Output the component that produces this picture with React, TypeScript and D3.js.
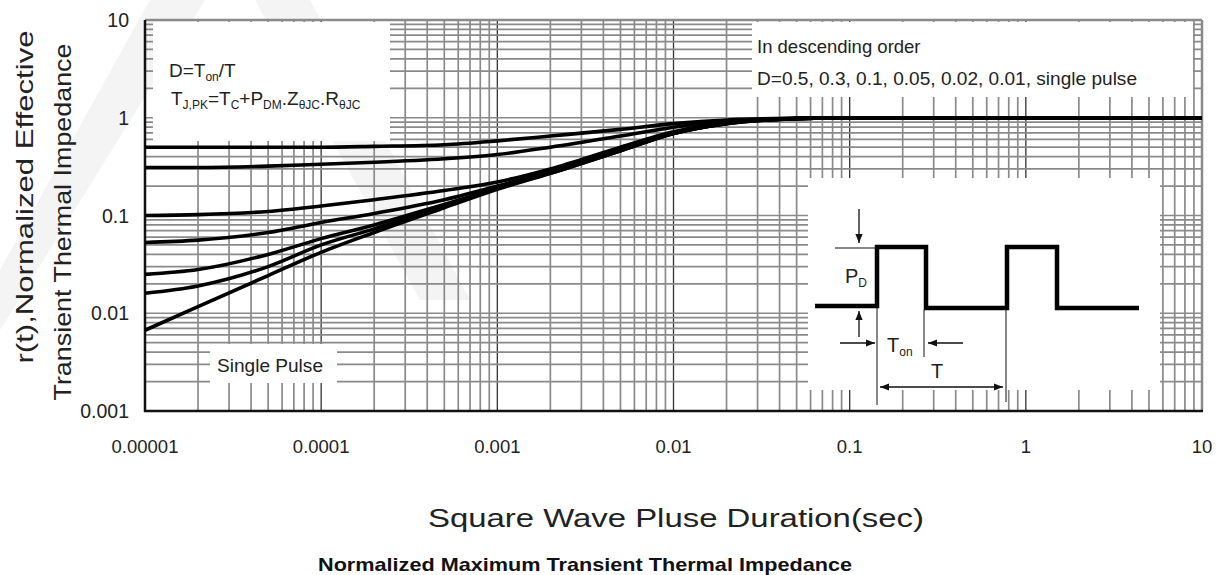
import React from 'react';
import * as d3 from 'd3';

// ---------- data ----------
const times = [1e-5, 2e-5, 5e-5, 1e-4, 2e-4, 5e-4, 1e-3, 2e-3, 5e-3, 1e-2, 2e-2, 5e-2, 1e-1, 1, 10];
const dutyD05 = [0.50, 0.50, 0.50, 0.50, 0.51, 0.53, 0.58, 0.65, 0.76, 0.87, 0.95, 0.99, 1.0, 1.0, 1.0];
const dutyD03 = [0.31, 0.31, 0.32, 0.335, 0.35, 0.38, 0.42, 0.50, 0.65, 0.80, 0.92, 0.99, 1.0, 1.0, 1.0];
const dutyD01 = [0.10, 0.102, 0.11, 0.125, 0.145, 0.18, 0.22, 0.30, 0.50, 0.72, 0.89, 0.98, 1.0, 1.0, 1.0];
const dutyD005 = [0.053, 0.056, 0.067, 0.085, 0.105, 0.145, 0.20, 0.285, 0.47, 0.70, 0.88, 0.98, 1.0, 1.0, 1.0];
const dutyD002 = [0.025, 0.028, 0.04, 0.058, 0.08, 0.13, 0.19, 0.275, 0.46, 0.69, 0.875, 0.98, 1.0, 1.0, 1.0];
const dutyD001 = [0.016, 0.019, 0.03, 0.05, 0.073, 0.125, 0.19, 0.27, 0.46, 0.69, 0.87, 0.98, 1.0, 1.0, 1.0];
const singlePulse = [0.0067, 0.0117, 0.0243, 0.042, 0.067, 0.12, 0.185, 0.27, 0.46, 0.69, 0.87, 0.98, 1.0, 1.0, 1.0];
const seriesList = [dutyD05, dutyD03, dutyD01, dutyD005, dutyD002, dutyD001, singlePulse];

const xTickValues = [1e-5, 1e-4, 1e-3, 1e-2, 1e-1, 1, 10];
const xTickLabels = ['0.00001', '0.0001', '0.001', '0.01', '0.1', '1', '10'];
const yTickValues = [0.001, 0.01, 0.1, 1, 10];
const yTickLabels = ['0.001', '0.01', '0.1', '1', '10'];

const FONT = '"Liberation Sans", Arial, Helvetica, sans-serif';
const W = 1221, H = 575;
const L = 145, R = 1202, T = 20, B = 411;

export default function App() {
  const x = d3.scaleLog().domain([1e-5, 10]).range([L, R]);
  const y = d3.scaleLog().domain([0.001, 10]).range([B, T]);

  const xMinor: number[] = [];
  for (let e = -5; e < 1; e++) for (let k = 1; k <= 9; k++) xMinor.push(k * Math.pow(10, e));
  const yMinor: number[] = [];
  for (let e = -3; e < 1; e++) for (let k = 1; k <= 9; k++) yMinor.push(k * Math.pow(10, e));

  const line = d3
    .line<[number, number]>()
    .x((d) => x(d[0]))
    .y((d) => y(d[1]))
    .curve(d3.curveMonotoneX);

  const gray = '#8a8a8a';
  const txt = '#222';

  return (
    <div style={{ position: 'absolute', left: 0, top: 0 }}>
      <svg width={W} height={H} style={{ display: 'block', background: '#fff' }} fontFamily={FONT}>
        <defs>
          <marker id="ah" viewBox="0 0 10 10" refX="10" refY="5" markerWidth="7" markerHeight="7" orient="auto">
            <path d="M0,1 L10,5 L0,9 Z" fill="#111" />
          </marker>
          <marker id="ahs" viewBox="0 0 10 10" refX="0" refY="5" markerWidth="7" markerHeight="7" orient="auto">
            <path d="M10,1 L0,5 L10,9 Z" fill="#111" />
          </marker>
        </defs>

        {/* faint watermark */}
        <g fill="#f4f4f4">
          <polygon points="0,330 0,270 150,0 205,0" />
          <polygon points="255,0 310,0 470,300 420,300" />
        </g>

        {/* grid */}
        <g>
          {xMinor.map((v, i) => {
            const major = Math.abs(Math.log10(v) - Math.round(Math.log10(v))) < 1e-9;
            return (
              <line key={'gx' + i} x1={x(v)} x2={x(v)} y1={T} y2={B}
                stroke={major && v !== 1e-5 ? '#333' : gray} strokeWidth={major ? 1.3 : 1.7} />
            );
          })}
          {yMinor.map((v, i) => (
            <line key={'gy' + i} x1={L} x2={R} y1={y(v)} y2={y(v)} stroke={gray} strokeWidth={1.7} />
          ))}
          <line x1={L} x2={R} y1={T} y2={T} stroke={gray} strokeWidth={2.5} />
          <line x1={R} x2={R} y1={T} y2={B} stroke={gray} strokeWidth={2.5} />
        </g>

        {/* annotation masks */}
        <rect x={153} y={22} width={237} height={119} fill="#fff" />
        <rect x={752} y={22} width={441} height={75} fill="#fff" />
        <rect x={808} y={178} width={352} height={212} fill="#fff" />
        <rect x={210} y={344} width={127} height={39} fill="#fff" />

        {/* frame */}
        <line x1={L} x2={L} y1={T} y2={B + 1} stroke="#111" strokeWidth={2.5} />
        <line x1={L - 1} x2={R + 1} y1={B} y2={B} stroke="#111" strokeWidth={2.5} />

        {/* curves */}
        {seriesList.map((s, i) => (
          <path key={'c' + i} d={line(times.map((t, j) => [t, s[j]] as [number, number])) || ''}
            fill="none" stroke="#000" strokeWidth={3.6} strokeLinejoin="round" />
        ))}

        {/* tick labels */}
        {xTickValues.map((v, i) => (
          <text key={'xt' + i} x={x(v)} y={453} textAnchor="middle" fontSize={18.5} fill={txt}>{xTickLabels[i]}</text>
        ))}
        {yTickValues.map((v, i) => (
          <text key={'yt' + i} x={129} y={y(v) + 7} textAnchor="end" fontSize={19.5} fill={txt}>{yTickLabels[i]}</text>
        ))}

        {/* axis titles */}
        <text transform="translate(33,197) rotate(-90)" textAnchor="middle" fontSize={24} fill={txt}
          textLength={333} lengthAdjust="spacingAndGlyphs">r(t),Normalized Effective</text>
        <text transform="translate(71,222) rotate(-90)" textAnchor="middle" fontSize={24} fill={txt}
          textLength={357} lengthAdjust="spacingAndGlyphs">Transient Thermal Impedance</text>
        <text x={676} y={527} textAnchor="middle" fontSize={25} fill={txt}
          textLength={496} lengthAdjust="spacingAndGlyphs">Square Wave Pluse Duration(sec)</text>
        <text x={585} y={571} textAnchor="middle" fontSize={19} fontWeight="bold" fill="#111"
          textLength={534} lengthAdjust="spacingAndGlyphs">Normalized Maximum Transient Thermal Impedance</text>

        {/* top-left legend text */}
        <text x={169} y={77} fontSize={19} fill={txt}>
          D=T<tspan fontSize={12} dy={4}>on</tspan><tspan dy={-4}>/T</tspan>
        </text>
        <text x={171} y={105} fontSize={19} fill={txt}>
          T<tspan fontSize={12} dy={4}>J,PK</tspan>
          <tspan dy={-4}>=T</tspan><tspan fontSize={12} dy={4}>C</tspan>
          <tspan dy={-4}>+P</tspan><tspan fontSize={12} dy={4}>DM</tspan>
          <tspan dy={-4}>.Z</tspan><tspan fontSize={12} dy={4}>θJC</tspan>
          <tspan dy={-4}>.R</tspan><tspan fontSize={12} dy={4}>θJC</tspan>
        </text>

        {/* top-right text */}
        <text x={757} y={53} fontSize={18.5} fill={txt}>In descending order</text>
        <text x={757} y={85} fontSize={18.5} fill={txt} textLength={380} lengthAdjust="spacingAndGlyphs">D=0.5, 0.3, 0.1, 0.05, 0.02, 0.01, single pulse</text>

        {/* single pulse label */}
        <text x={217} y={372} fontSize={18.5} fill={txt} textLength={106} lengthAdjust="spacingAndGlyphs">Single Pulse</text>

        {/* inset diagram */}
        <g>
          <polyline points="815,306 877,306 877,247 926,247 926,308 1007,308 1007,247 1057,247 1057,308 1139,308"
            fill="none" stroke="#000" strokeWidth={4.5} strokeLinejoin="miter" />
          <line x1={835} x2={877} y1={248} y2={248} stroke="#111" strokeWidth={1} />
          <line x1={859} x2={859} y1={209} y2={243} stroke="#111" strokeWidth={1.3} markerEnd="url(#ah)" />
          <line x1={859} x2={859} y1={337} y2={311} stroke="#111" strokeWidth={1.3} markerEnd="url(#ah)" />
          <text x={845} y={283} fontSize={20} fill={txt}>P<tspan fontSize={12} dy={4}>D</tspan></text>
          <line x1={840} x2={875} y1={343} y2={343} stroke="#111" strokeWidth={1.3} markerEnd="url(#ah)" />
          <line x1={963} x2={928} y1={343} y2={343} stroke="#111" strokeWidth={1.3} markerEnd="url(#ah)" />
          <text x={887} y={352} fontSize={20} fill={txt}>T<tspan fontSize={12} dy={4}>on</tspan></text>
          <line x1={877} x2={877} y1={248} y2={405} stroke="#111" strokeWidth={1} />
          <line x1={924} x2={924} y1={310} y2={357} stroke="#111" strokeWidth={1} />
          <line x1={1006} x2={1006} y1={308} y2={402} stroke="#111" strokeWidth={1} />
          <text x={937} y={378} textAnchor="middle" fontSize={20} fill={txt}>T</text>
          <line x1={880} x2={1003} y1={387} y2={387} stroke="#111" strokeWidth={1.3}
            markerStart="url(#ahs)" markerEnd="url(#ah)" />
        </g>
      </svg>
    </div>
  );
}
